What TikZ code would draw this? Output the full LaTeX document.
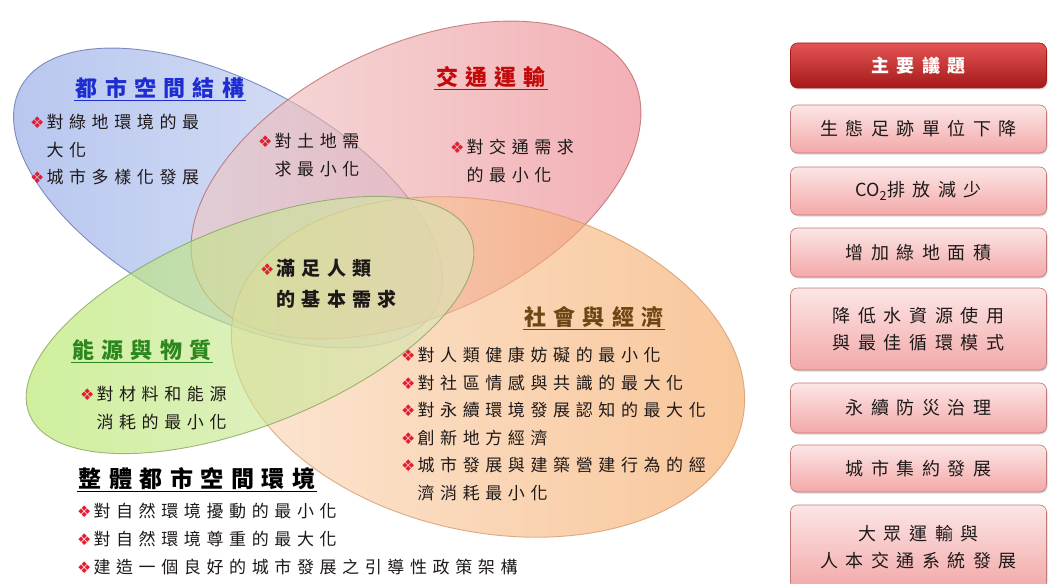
\documentclass[tikz,border=0pt]{standalone}
\usepackage{fontspec}
\usetikzlibrary{shadows}
\newfontfamily\cjk[LetterSpace=33]{Noto Sans CJK TC}
\newfontfamily\cjkw[LetterSpace=42]{Noto Sans CJK TC}
\newfontfamily\cjkn{Noto Sans CJK TC}
\newfontfamily\dejavu{DejaVu Sans}
\definecolor{bulred}{RGB}{225,30,50}
\definecolor{txt}{RGB}{30,25,25}
\definecolor{tblue}{RGB}{30,45,210}
\definecolor{tred}{RGB}{195,10,10}
\definecolor{tgreen}{RGB}{45,135,30}
\definecolor{tbrown}{RGB}{110,70,20}
\definecolor{blueA}{RGB}{135,160,230}
\definecolor{blueB}{RGB}{205,215,240}
\definecolor{blueE}{RGB}{95,110,170}
\definecolor{redA}{RGB}{240,205,200}
\definecolor{redB}{RGB}{235,120,130}
\definecolor{redE}{RGB}{180,100,100}
\definecolor{greenA}{RGB}{175,230,90}
\definecolor{greenB}{RGB}{220,230,190}
\definecolor{greenE}{RGB}{130,160,90}
\definecolor{orA}{RGB}{250,215,185}
\definecolor{orB}{RGB}{245,160,85}
\definecolor{orE}{RGB}{210,150,100}
\definecolor{pinkA}{RGB}{252,230,230}
\definecolor{pinkB}{RGB}{243,168,168}
\definecolor{pinkE}{RGB}{195,120,120}
\definecolor{hdA}{RGB}{228,85,85}
\definecolor{hdB}{RGB}{165,25,25}
\newcommand\bul{{\dejavu\fontsize{16}{16}\selectfont\color{bulred}\char"2756}\hspace{2pt}}
\tikzset{
  ell/.style={line width=0.9pt, fill opacity=0.6, draw opacity=0.75},
  body/.style={font=\cjk\fontsize{17}{27.5}\selectfont, text=txt, align=left, inner sep=0pt, anchor=west},
  ttl/.style={font=\cjk\bfseries\fontsize{22}{26}\selectfont, inner sep=1.5pt},
  uline/.style={line width=1.3pt},
  pbox/.style={rounded corners=7pt, draw=pinkE, line width=0.6pt, top color=pinkA, bottom color=pinkB,
    drop shadow={opacity=0.3, shadow xshift=1pt, shadow yshift=-1.5pt},
    minimum width=256pt, font=\cjkw\fontsize{18}{27}\selectfont, text=txt, align=center, inner sep=0pt},
  hbox/.style={pbox, draw=hdB, top color=hdA, bottom color=hdB, text=white,
    font=\cjkw\bfseries\fontsize{18}{27}\selectfont}
}
\begin{document}
\begin{tikzpicture}[x=1pt,y=-1pt]
\useasboundingbox (0,0) rectangle (1051,583);
\fill[white] (0,0) rectangle (1051,583);
% ellipses
\begin{scope}[shift={(228,198)}, rotate=-28]
  \shade[ell, draw=blueE, left color=blueA, right color=blueB] (0,0) ellipse [x radius=235pt, y radius=115pt];
\end{scope}
\begin{scope}[shift={(416,180)}, rotate=25]
  \shade[ell, draw=redE, left color=redA, right color=redB] (0,0) ellipse [x radius=240pt, y radius=135pt];
\end{scope}
\begin{scope}[shift={(488,367)}, rotate=-12]
  \shade[ell, draw=orE, left color=orA, right color=orB] (0,0) ellipse [x radius=260pt, y radius=165pt];
\end{scope}
\begin{scope}[shift={(250,325)}, rotate=22]
  \shade[ell, draw=greenE, left color=greenA, right color=greenB] (0,0) ellipse [x radius=238pt, y radius=100pt];
\end{scope}
% titles
\node[ttl, text=tblue] (t1) at (160,88) {都市空間結構};
\draw[uline, tblue] (t1.south west) -- (t1.south east);
\node[ttl, text=tred] (t2) at (491,77) {交通運輸};
\draw[uline, tred] (t2.south west) -- (t2.south east);
\node[ttl, text=tgreen] (t3) at (142,350) {能源與物質};
\draw[uline, tgreen] (t3.south west) -- (t3.south east);
\node[ttl, text=tbrown] (t4) at (594,317) {社會與經濟};
\draw[uline, tbrown] (t4.south west) -- (t4.south east);
\node[ttl, text=black, font=\cjk\bfseries\fontsize{23}{26}\selectfont] (t5) at (197,479) {整體都市空間環境};
\draw[uline, black] (t5.south west) -- (t5.south east);
% body texts
\node[body] (b1) at (30,150) {\bul 對綠地環境的最\\\phantom{\bul}大化\\\bul 城市多樣化發展};
\node[body] (b2) at (258,155) {\bul 對土地需\\\phantom{\bul}求最小化};
\node[body] (b3) at (450,161) {\bul 對交通需求\\\phantom{\bul}的最小化};
\node[body, font=\cjk\bfseries\fontsize{19}{31}\selectfont] (b4) at (260,284) {\bul 滿足人類\\\phantom{\bul}的基本需求};
\node[body] (b5) at (80,408) {\bul 對材料和能源\\\phantom{\bul}消耗的最小化};
\node[body] (b6) at (401,424) {\bul 對人類健康妨礙的最小化\\\bul 對社區情感與共識的最大化\\\bul 對永續環境發展認知的最大化\\\bul 創新地方經濟\\\bul 城市發展與建築營建行為的經\\\phantom{\bul}濟消耗最小化};
\node[body, font=\cjk\fontsize{17}{28}\selectfont] (b7) at (77,539) {\bul 對自然環境擾動的最小化\\\bul 對自然環境尊重的最大化\\\bul 建造一個良好的城市發展之引導性政策架構};
% right column
\node[hbox, minimum height=45pt] (h0) at (918.5,65.5) {主要議題};
\node[pbox, minimum height=48pt] (r1) at (918.5,129) {生態足跡單位下降};
\node[pbox, minimum height=48pt] (r2) at (918.5,191) {{\cjkn CO\textsubscript{2}}排放減少};
\node[pbox, minimum height=49pt] (r3) at (918.5,252.5) {增加綠地面積};
\node[pbox, minimum height=82pt] (r4) at (918.5,329) {降低水資源使用\\與最佳循環模式};
\node[pbox, minimum height=50pt] (r5) at (918.5,408) {永續防災治理};
\node[pbox, minimum height=47pt] (r6) at (918.5,468.5) {城市集約發展};
\node[pbox, minimum height=84pt] (r7) at (918.5,547) {大眾運輸與\\人本交通系統發展};
\end{tikzpicture}
\end{document}
